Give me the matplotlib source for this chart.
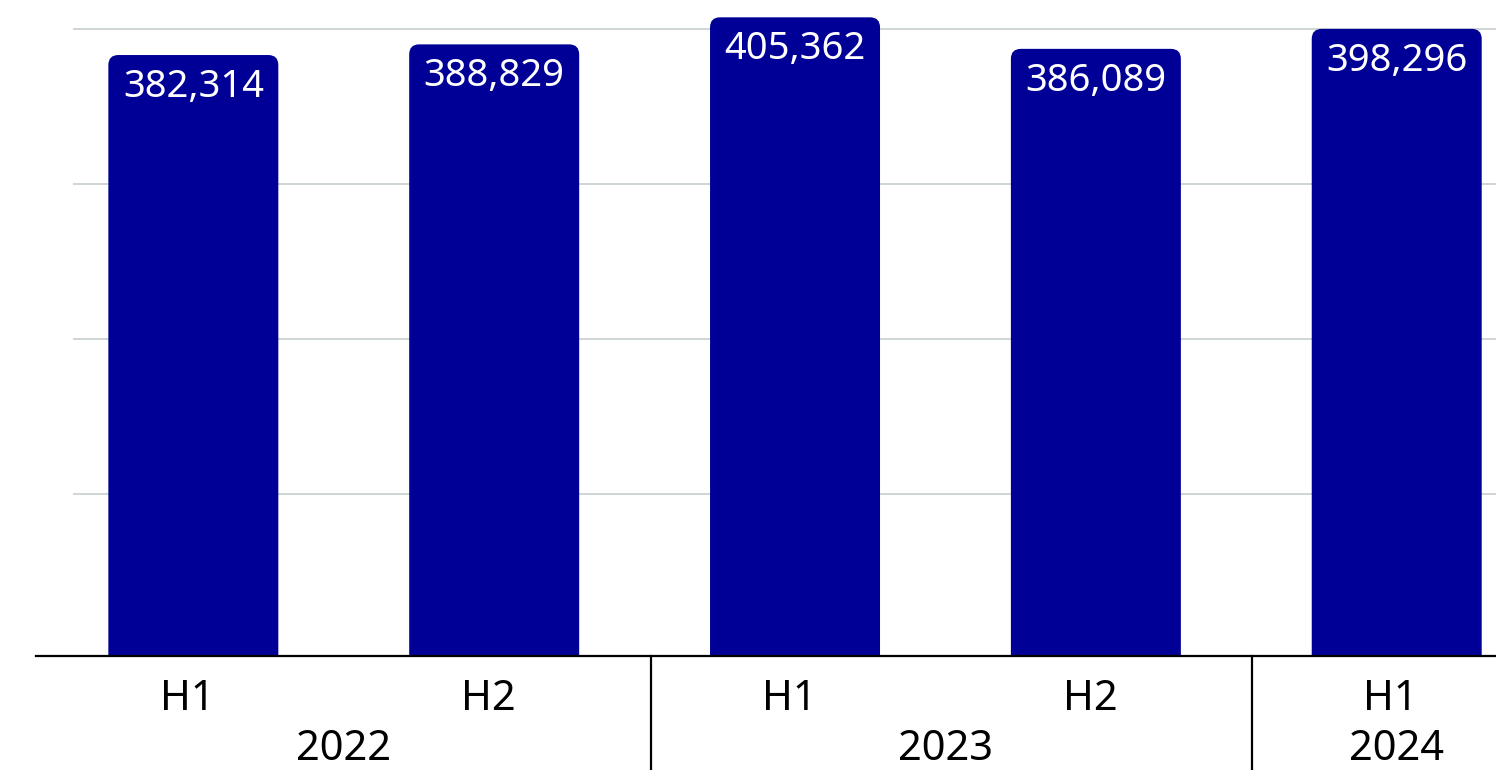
import matplotlib
matplotlib.use("Agg")
import matplotlib.pyplot as plt
from matplotlib.patches import FancyBboxPatch
import numpy as np

# data
halves = ["H1", "H2", "H1", "H2", "H1"]
years = ["2022", "2022", "2023", "2023", "2024"]
values = [382314, 388829, 405362, 386089, 398296]

bar_color = "#000096"
grid_color = "#c6cfcd"

plt.rcParams["font.family"] = ["Noto Sans", "DejaVu Sans"]

W, H = 1496, 770
fig = plt.figure(figsize=(W / 100, H / 100), dpi=100)
ax = fig.add_axes([73 / W, 114 / H, (W - 73) / W, 656 / H])

x = np.arange(len(values))
x0, x1 = -0.40, 4.33
ymin, ymax = 14950, 415950
ax.set_xlim(x0, x1)
ax.set_ylim(ymin, ymax)

# grid
ax.set_yticks([114000, 208500, 303500, 398500])
ax.yaxis.grid(True, color=grid_color, lw=1.2)
ax.set_axisbelow(True)
ax.tick_params(left=False, bottom=False, labelleft=False, labelbottom=False)
for s in ax.spines.values():
    s.set_visible(False)

# bars with rounded tops
bars = ax.bar(x, values, width=0.565, color=bar_color)
px_x = ax.bbox.width / (x1 - x0)
px_y = ax.bbox.height / (ymax - ymin)
r = 10  # corner radius in px
rx = r / px_x
for b in bars:
    bx, by = b.get_x(), b.get_y()
    bw, bh = b.get_width(), b.get_height()
    b.set_visible(False)
    p = FancyBboxPatch((bx, by), bw, bh,
                       boxstyle=f"round,pad=0,rounding_size={rx}",
                       mutation_aspect=(r / px_y) / rx,
                       fc=bar_color, ec="none")
    ax.add_patch(p)

# value labels inside bars
for xi, v in zip(x, values):
    ax.annotate(f"{v:,}", (xi, v), xytext=(0, -42 * 0.72), textcoords="offset points",
                ha="center", va="baseline", color="white", fontsize=27.5)

# baseline
ax.plot([x0 - 37 / px_x, x1], [ymin, ymin], color="black", lw=1.6, clip_on=False, zorder=5)

# category labels
tr = ax.get_xaxis_transform()
for xi, h in zip(x, halves):
    ax.text(xi - 0.02, -0.0823, h, transform=tr, ha="center", va="baseline", fontsize=30)

# year labels and separators
groups = []
for i, y in enumerate(years):
    if groups and groups[-1][0] == y:
        groups[-1][1].append(i)
    else:
        groups.append((y, [i]))
for gi, (y, idx) in enumerate(groups):
    ax.text(np.mean(idx), -0.1585, y, transform=tr, ha="center", va="baseline", fontsize=30)
    if gi > 0:
        sep = idx[0] - 0.48
        ax.plot([sep, sep], [0, -0.2], transform=tr, color="black", lw=1.6, clip_on=False)

fig.savefig("out.png", dpi=100)
